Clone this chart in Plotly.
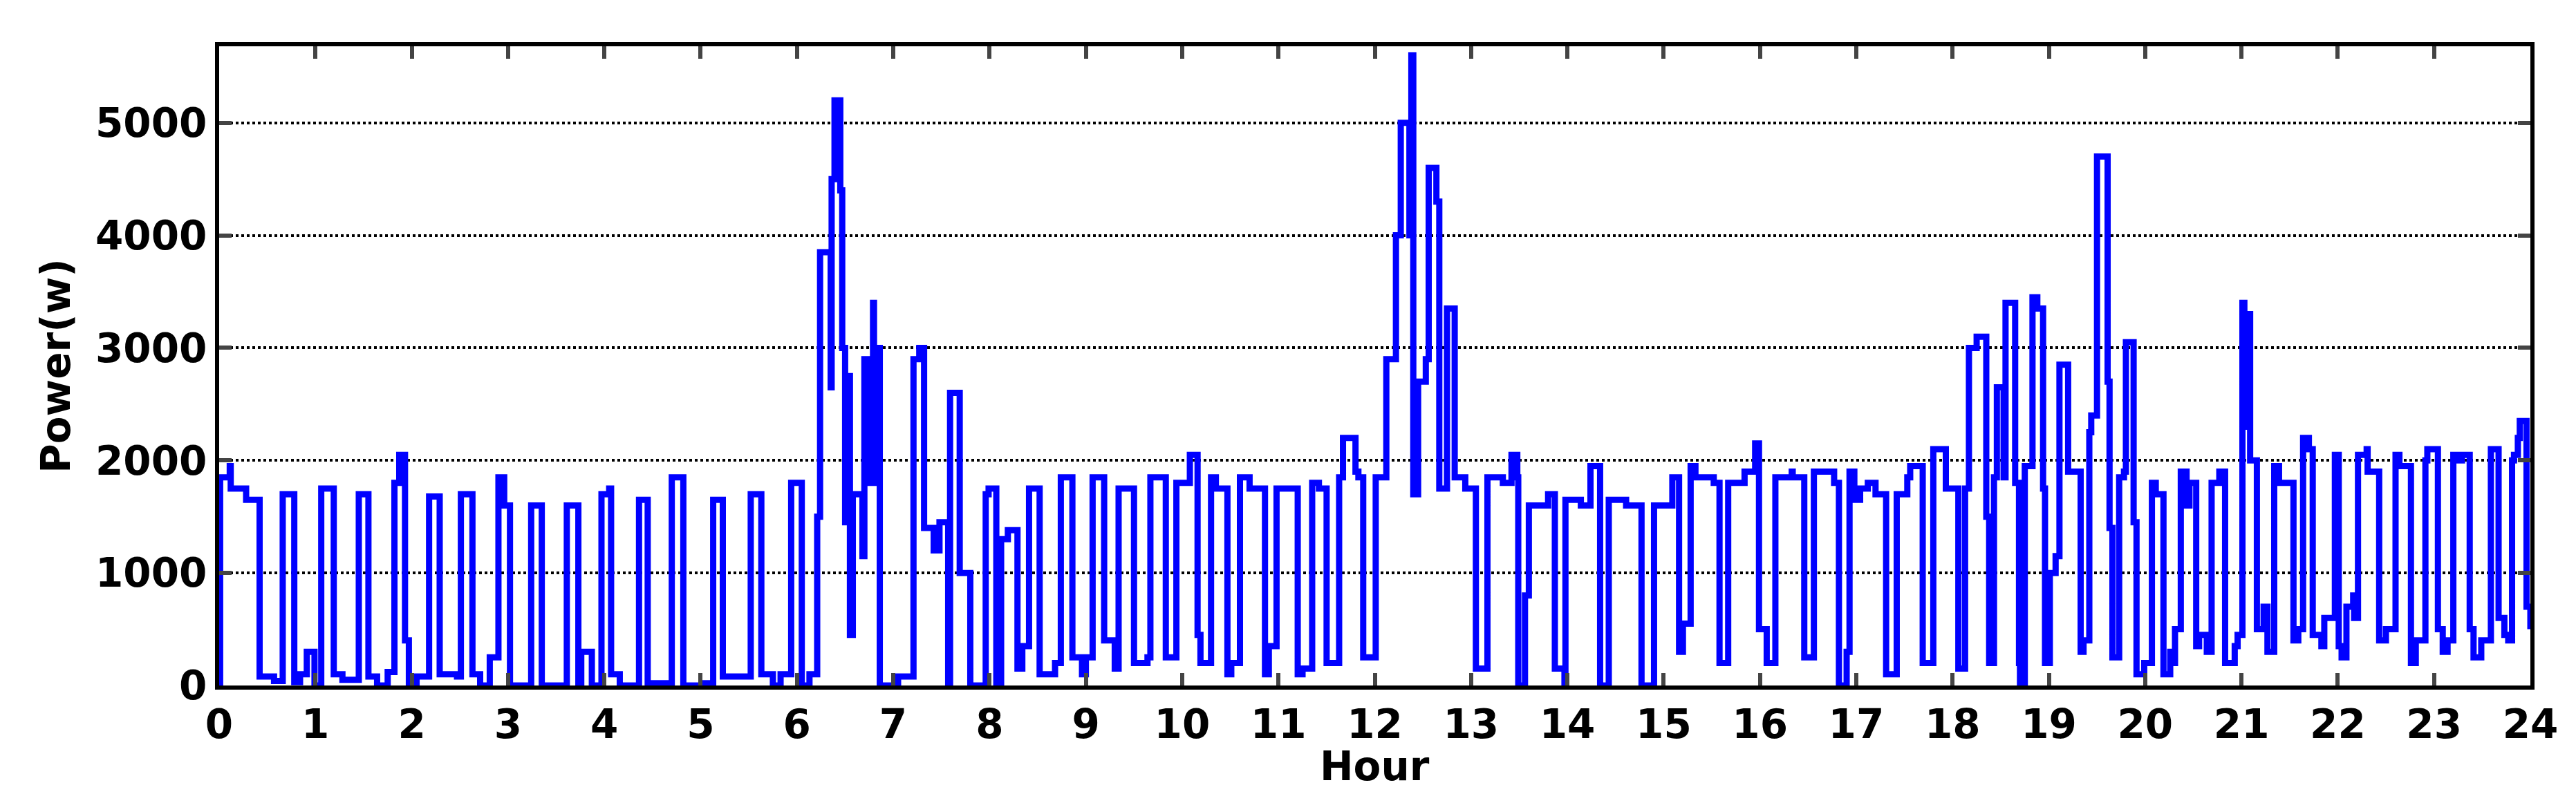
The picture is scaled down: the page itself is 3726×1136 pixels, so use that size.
import plotly.graph_objects as go

# step breakpoints: hour -> power (W)
hours = [0.0, 0.01, 0.11, 0.12, 0.28, 0.42, 0.57, 0.66, 0.78, 0.84, 0.91, 0.99, 1.06, 1.19, 1.28,
         1.45, 1.55, 1.64, 1.75, 1.82, 1.87, 1.93, 1.97, 2.05, 2.18, 2.29, 2.47, 2.51, 2.63, 2.71,
         2.81, 2.90, 2.96, 3.02, 3.24, 3.35, 3.61, 3.73, 3.76, 3.87, 3.97, 4.05, 4.07, 4.16,
         4.36, 4.45, 4.70, 4.82, 5.04, 5.13, 5.23, 5.52, 5.63, 5.75, 5.83, 5.94, 6.05, 6.13,
         6.21, 6.24, 6.35, 6.36, 6.39, 6.45, 6.47, 6.50, 6.54, 6.55, 6.58, 6.68, 6.70, 6.73,
         6.79, 6.80, 6.84, 6.86, 7.05, 7.21, 7.27, 7.32, 7.42, 7.48, 7.57, 7.59, 7.69, 7.80,
         7.96, 7.99, 8.07, 8.12, 8.19, 8.29, 8.34, 8.41, 8.52, 8.68, 8.74, 8.86, 8.96, 9.00,
         9.07, 9.19, 9.30, 9.34, 9.50, 9.64, 9.67, 9.83, 9.94, 10.08, 10.16, 10.19, 10.30,
         10.35, 10.47, 10.51, 10.60, 10.70, 10.86, 10.90, 10.98, 11.20, 11.25, 11.35, 11.42,
         11.50, 11.63, 11.67, 11.80, 11.83, 11.88, 12.01, 12.12, 12.22, 12.27, 12.36, 12.38,
         12.40, 12.45, 12.53, 12.56, 12.64, 12.67, 12.75, 12.83, 12.94, 13.05, 13.17, 13.33,
         13.42, 13.48, 13.49, 13.56, 13.60, 13.71, 13.80, 13.87, 13.97, 13.98, 14.14, 14.24,
         14.34, 14.43, 14.61, 14.77, 14.90, 15.09, 15.16, 15.20, 15.28, 15.33, 15.52, 15.58,
         15.67, 15.84, 15.95, 15.99, 16.07, 16.16, 16.33, 16.34, 16.46, 16.56, 16.77, 16.82,
         16.90, 16.93, 16.98, 17.04, 17.12, 17.20, 17.31, 17.42, 17.53, 17.56, 17.69, 17.80,
         17.93, 18.06, 18.13, 18.17, 18.25, 18.35, 18.38, 18.43, 18.46, 18.53, 18.55, 18.65,
         18.69, 18.70, 18.75, 18.83, 18.88, 18.94, 18.96, 19.01, 19.07, 19.11, 19.20, 19.33,
         19.36, 19.42, 19.44, 19.50, 19.61, 19.63, 19.66, 19.73, 19.78, 19.80, 19.88, 19.91,
         19.99, 20.07, 20.11, 20.14, 20.19, 20.26, 20.29, 20.31, 20.37, 20.43, 20.46, 20.53,
         20.56, 20.64, 20.69, 20.77, 20.83, 20.93, 20.96, 21.01, 21.03, 21.04, 21.09, 21.16,
         21.23, 21.27, 21.34, 21.39, 21.54, 21.59, 21.64, 21.70, 21.74, 21.83, 21.86, 21.97,
         22.01, 22.04, 22.09, 22.16, 22.17, 22.21, 22.30, 22.31, 22.43, 22.50, 22.60, 22.64,
         22.76, 22.81, 22.91, 22.93, 23.04, 23.09, 23.14, 23.20, 23.23, 23.29, 23.37, 23.41,
         23.49, 23.59, 23.67, 23.73, 23.77, 23.81, 23.83, 23.87, 23.89, 23.96, 24.0]
power = [0, 1850, 1950, 1750, 1650, 80, 40, 1700, 30, 100, 300, 0, 1750, 100, 50,
         1700, 80, 0, 120, 1800, 2050, 400, 0, 80, 1680, 100, 80, 1700, 100, 0,
         250, 1850, 1600, 0, 1600, 0, 1600, 0, 300, 0, 1700, 1750, 100, 0,
         1650, 20, 1850, 0, 20, 1650, 80, 1700, 100, 0, 100, 1800, 0, 100,
         1500, 3850, 2650, 4500, 5200, 4400, 3000, 1450, 2750, 450, 1700, 1150, 2900, 1800,
         3400, 1800, 3000, 0, 80, 2900, 3000, 1400, 1200, 1450, 0, 2600, 1000, 0,
         1700, 1750, 0, 1300, 1380, 150, 350, 1750, 100, 200, 1850, 250, 100, 250,
         1850, 400, 150, 1750, 200, 250, 1850, 250, 1800, 2050, 450, 200, 1850,
         1750, 100, 200, 1850, 1750, 100, 350, 1750, 100, 150, 1800, 1750,
         200, 1850, 2200, 1900, 1850, 250, 1850, 2900, 4000, 5000, 4000, 5600,
         1700, 2700, 2900, 4600, 4300, 1750, 3350, 1850, 1750, 150, 1850, 1800,
         2050, 1850, 0, 800, 1600, 1600, 1700, 150, 0, 1650, 1600, 1950,
         0, 1650, 1600, 0, 1600, 1850, 300, 550, 1950, 1850, 1800, 200,
         1800, 1900, 2150, 500, 200, 1850, 1900, 1850, 250, 1900, 1800, 0, 300,
         1900, 1650, 1750, 1800, 1700, 100, 1700, 1850, 1950, 200, 2100, 1750,
         150, 1750, 3000, 3100, 1500, 200, 1850, 2650, 1850, 3400, 1800, 200,
         0, 1950, 3450, 3350, 1750, 200, 1000, 1150, 2850, 1900, 300, 400,
         2250, 2400, 4700, 2700, 1400, 250, 1850, 1900, 3050, 1450, 100, 200,
         1800, 1700, 1700, 100, 300, 200, 500, 1900, 1600, 1800, 350, 450,
         300, 1800, 1900, 200, 350, 450, 3400, 2300, 3300, 2000, 500, 700,
         300, 1950, 1800, 400, 500, 2200, 2100, 450, 350, 600, 2050, 350,
         250, 700, 800, 600, 2050, 2100, 1900, 400, 500, 2050, 1950, 200,
         400, 2000, 2100, 500, 300, 400, 2050, 2000, 2050, 500, 250, 400,
         2100, 600, 450, 400, 2000, 2050, 2200, 2350, 700, 500, 600]

x_ticks = list(range(0, 25))
y_ticks = [0, 1000, 2000, 3000, 4000, 5000]

fig = go.Figure()
fig.add_trace(go.Scatter(x=hours, y=power, mode="lines", line_shape="hv",
                         line=dict(color="#0000ff", width=9)))

axis_font = dict(family="DejaVu Sans", size=58, color="black", weight="bold")
fig.update_layout(
    width=3726, height=1136,
    margin=dict(l=309, r=74, t=59, b=152),
    plot_bgcolor="white", paper_bgcolor="white",
    showlegend=False,
    font=axis_font,
)
# x title placed by hand so it sits tight under the tick labels
fig.add_annotation(text="Hour", xref="paper", yref="paper", x=0.5, y=-0.127,
                   xanchor="center", yanchor="middle", showarrow=False, font=axis_font)
fig.update_xaxes(range=[0, 24], tickvals=x_ticks, ticks="inside", ticklen=18, tickwidth=6,
                 showline=True, linewidth=6, linecolor="black", mirror="ticks",
                 showgrid=False, zeroline=False, tickfont=axis_font)
fig.update_yaxes(range=[0, 5680], tickvals=y_ticks, ticks="inside", ticklen=18, tickwidth=6,
                 showline=True, linewidth=6, linecolor="black", mirror="ticks",
                 showgrid=True, gridcolor="black", gridwidth=4, griddash="dot",
                 zeroline=False, tickfont=axis_font,
                 title=dict(text="Power(w)", font=axis_font, standoff=20))

fig.write_html("out.html")
